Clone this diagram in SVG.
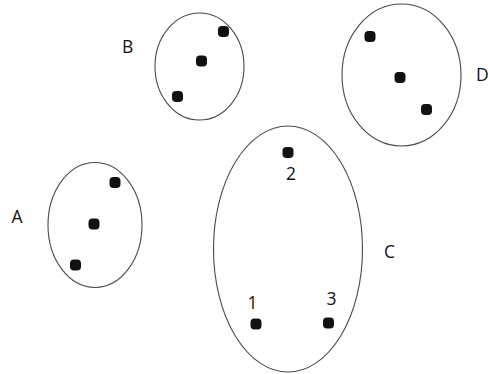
<svg xmlns="http://www.w3.org/2000/svg" width="488" height="374" viewBox="0 0 488 374">
  <style>
    .set { fill: none; stroke: #4a4a4a; stroke-width: 1.1; }
    .pt { fill: #111; }
    .lbl { font-family: "Open Sans", "Liberation Sans", sans-serif; font-size: 17.5px; fill: #111; }
  </style>
  <defs>
    <rect id="dot" x="-5.5" y="-5.5" width="11" height="11" rx="4" ry="4" class="pt"/>
  </defs>
  <rect width="488" height="374" fill="#fff"/>

  <g id="set-B">
    <ellipse class="set" cx="199.5" cy="66.5" rx="44.5" ry="53.5"/>
    <use href="#dot" x="223.5" y="31.5"/>
    <use href="#dot" x="201.5" y="61"/>
    <use href="#dot" x="177.5" y="96.5"/>
    <text class="lbl" x="122" y="53">B</text>
  </g>

  <g id="set-D">
    <ellipse class="set" cx="401.5" cy="75" rx="59.5" ry="71"/>
    <use href="#dot" x="370" y="36.5"/>
    <use href="#dot" x="400" y="77.5"/>
    <use href="#dot" x="426.5" y="109.5"/>
    <text class="lbl" x="476" y="81">D</text>
  </g>

  <g id="set-A">
    <ellipse class="set" cx="95" cy="225" rx="47" ry="62.5"/>
    <use href="#dot" x="115" y="182.5"/>
    <use href="#dot" x="94" y="224"/>
    <use href="#dot" x="75.5" y="265"/>
    <text class="lbl" x="11.5" y="222.5">A</text>
  </g>

  <g id="set-C">
    <ellipse class="set" cx="288" cy="249" rx="74.5" ry="123"/>
    <use href="#dot" x="288" y="152.5"/>
    <use href="#dot" x="256" y="324"/>
    <use href="#dot" x="328.5" y="323"/>
    <text class="lbl" x="286" y="180">2</text>
    <text class="lbl" x="247.5" y="308.5">1</text>
    <text class="lbl" x="326.5" y="304.5">3</text>
    <text class="lbl" x="384" y="257.5">C</text>
  </g>

  <g id="connectors"></g>
</svg>
